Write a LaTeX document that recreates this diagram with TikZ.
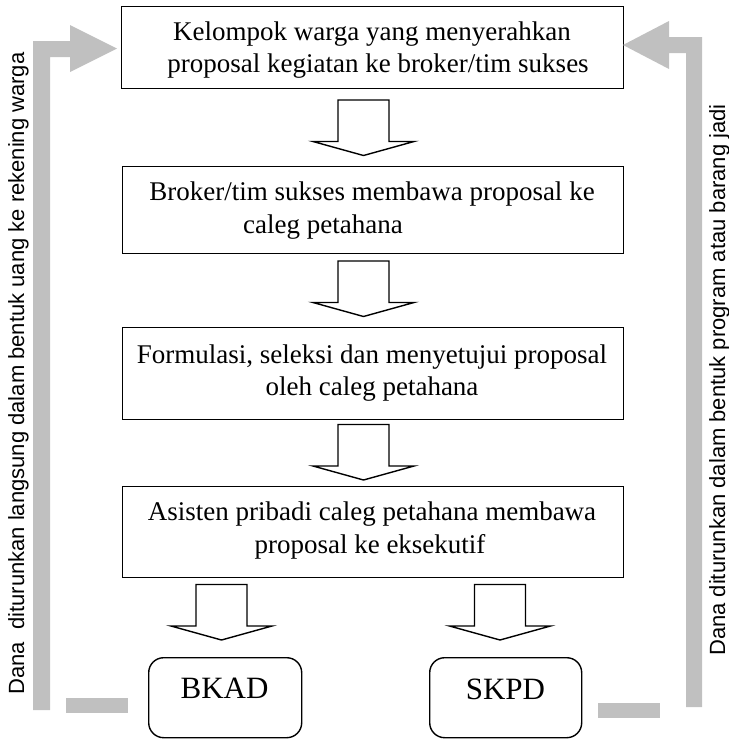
\documentclass[tikz,border=0pt]{standalone}
\usepackage{fontspec}
\setmainfont{Liberation Serif}
\newfontfamily\sidefont{Liberation Sans}
\definecolor{arrgray}{RGB}{192,192,192}
\tikzset{
  box/.style={draw, line width=1.4pt, inner sep=0pt},
  rbox/.style={draw, line width=1.4pt, rounded corners=15pt, inner sep=0pt},
  boxtext/.style={font=\fontsize{27}{32}\selectfont, inner sep=0pt, anchor=base},
  bigtext/.style={font=\fontsize{31}{36}\selectfont, inner sep=0pt, anchor=base},
  sidetext/.style={font=\sidefont\fontsize{22}{26}\selectfont, inner sep=0pt, anchor=base, rotate=90},
  blkline/.style={draw, line width=1.4pt, line join=miter, fill=white},
  grayarrow/.style={fill=arrgray, draw=none},
  blkarr/.pic={\path[blkline] (-25.5,0) -- (25.5,0) -- (25.5,41.5) -- (50.5,41.5) -- (0,55.5) -- (-50.5,41.5) -- (-25.5,41.5) -- cycle;}
}
\begin{document}
\begin{tikzpicture}[x=1pt,y=-1pt]
\useasboundingbox (0,0) rectangle (729,740);

% main boxes
\node[box, minimum width=502pt, minimum height=82pt, anchor=north west] (b1) at (121,6) {};
\node[box, minimum width=501pt, minimum height=87pt, anchor=north west] (b2) at (122,166) {};
\node[box, minimum width=501pt, minimum height=92pt, anchor=north west] (b3) at (122,327) {};
\node[box, minimum width=501pt, minimum height=91pt, anchor=north west] (b4) at (122,486) {};
\node[rbox, minimum width=153pt, minimum height=80pt, anchor=north west] (bkad) at (148,657) {};
\node[rbox, minimum width=152pt, minimum height=80pt, anchor=north west] (skpd) at (429,657) {};

% texts
\node[boxtext] (t1a) at (372,40) {Kelompok warga yang menyerahkan};
\node[boxtext] (t1b) at (378,72) {proposal kegiatan ke broker/tim sukses};
\node[boxtext] (t2a) at (372,200) {Broker/tim sukses membawa proposal ke};
\node[boxtext, anchor=base west] (t2b) at (243,233) {caleg petahana};
\node[boxtext] (t3a) at (372,363) {Formulasi, seleksi dan menyetujui proposal};
\node[boxtext] (t3b) at (372,395) {oleh caleg petahana};
\node[boxtext] (t4a) at (372,520) {Asisten pribadi caleg petahana membawa};
\node[boxtext] (t4b) at (370,553) {proposal ke eksekutif};
\node[bigtext] (tbkad) at (224.5,698) {BKAD};
\node[bigtext] (tskpd) at (505.5,699) {SKPD};

% block arrows
\pic at (363.5,100) {blkarr};
\pic at (363.5,261) {blkarr};
\pic at (363.5,424.5) {blkarr};
\pic at (221.5,584.5) {blkarr};
\pic at (500,584.5) {blkarr};

% gray feedback arrows
\fill[grayarrow] (33,710) -- (33,41) -- (70,41) -- (70,25) -- (117,48.5) -- (70,72) -- (70,57) -- (50,57) -- (50,710) -- cycle;
\fill[grayarrow] (702,707) -- (702,37) -- (669,37) -- (669,21) -- (623,45) -- (669,69) -- (669,53) -- (686,53) -- (686,707) -- cycle;
\fill[grayarrow] (66,698) rectangle (128,713);
\fill[grayarrow] (598,703) rectangle (660,718);

% side texts
\node[sidetext] (lt) at (24,373.5) {Dana\ \ diturunkan langsung dalam bentuk uang ke rekening warga};
\node[sidetext] (rt) at (725,380) {Dana diturunkan dalam bentuk program atau barang jadi};
\end{tikzpicture}
\end{document}
